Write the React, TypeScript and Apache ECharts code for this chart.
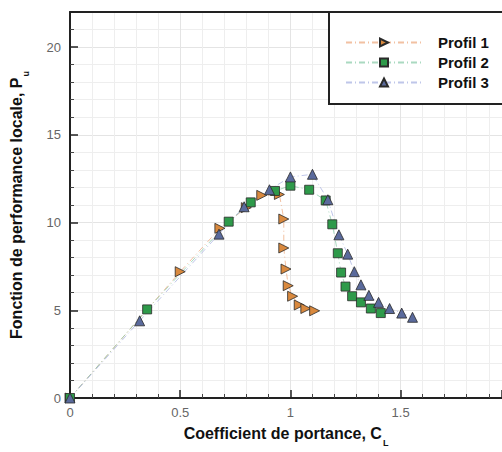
import React, { useEffect, useRef } from "react";
import * as echarts from "echarts";

const seriesNames = ["Profil 1", "Profil 2", "Profil 3"];

const profil1: [number, number][] = [
  [0, 0], [0.5, 7.2], [0.68, 9.67], [0.8, 10.85], [0.87, 11.55], [0.95, 11.6],
  [0.97, 10.2], [0.97, 8.55], [0.98, 7.35], [0.99, 6.4], [1.01, 5.8],
  [1.04, 5.3], [1.07, 5.1], [1.11, 4.97],
];

const profil2: [number, number][] = [
  [0, 0], [0.35, 5.05], [0.72, 10.05], [0.82, 11.15], [0.93, 11.8], [1.0, 12.1],
  [1.085, 11.87], [1.16, 11.26], [1.19, 9.9], [1.215, 8.25], [1.23, 7.15],
  [1.25, 6.35], [1.28, 5.8], [1.32, 5.45], [1.365, 5.1], [1.41, 4.84],
];

const profil3: [number, number][] = [
  [0, 0], [0.316, 4.4], [0.676, 9.34], [0.79, 10.9], [0.905, 11.87], [1.0, 12.6],
  [1.1, 12.75], [1.17, 11.3], [1.22, 9.3], [1.26, 8.2], [1.29, 7.2],
  [1.32, 6.45], [1.356, 5.85], [1.4, 5.45], [1.45, 5.1], [1.505, 4.84], [1.554, 4.6],
];

const xTicks = { min: 0, max: 1.96, interval: 0.5, labels: [0, 0.5, 1, 1.5] };
const yTicks = { min: 0, max: 22, interval: 5, labels: [0, 5, 10, 15, 20] };

export default function App() {
  const ref = useRef<HTMLDivElement>(null);
  useEffect(() => {
    document.body.style.margin = "0";
    const chart = echarts.init(ref.current!, null, { renderer: "svg" });
    const font = "'Liberation Sans', Arial, sans-serif";
    const mk = (
      name: string,
      data: [number, number][],
      symbol: string,
      rotate: number,
      fill: string,
      line: string,
      size: number
    ) => ({
      type: "line",
      name,
      data,
      symbol,
      symbolSize: size,
      symbolRotate: rotate,
      itemStyle: { color: fill, borderColor: "#2a2a2a", borderWidth: 0.8 },
      lineStyle: { color: line, width: 1, type: [6, 3, 1, 3], opacity: 0.7 },
      z: 3,
    });
    const nameStyle = {
      fontFamily: font,
      fontWeight: "bold",
      fontSize: 16,
      color: "#111",
      rich: {
        sub: { fontFamily: font, fontWeight: "bold", fontSize: 9, color: "#111", verticalAlign: "bottom", padding: [0, 0, -6, 1] },
      },
    };
    chart.setOption({
      animation: false,
      backgroundColor: "#ffffff",
      grid: { left: 67, top: 12, right: 0, bottom: 39 },
      legend: {
        orient: "vertical",
        left: 329,
        top: 12,
        padding: [23, 30, 14, 16],
        itemWidth: 76,
        itemHeight: 10,
        itemGap: 5,
        backgroundColor: "#fff",
        borderColor: "#222",
        borderWidth: 2,
        borderRadius: 0,
        textStyle: {
          fontFamily: font,
          fontWeight: "bold",
          fontSize: 15,
          color: "#111",
          padding: [0, 0, 0, 11],
        },
        data: seriesNames,
      },
      xAxis: [
        {
          type: "value",
          min: xTicks.min,
          max: xTicks.max,
          interval: xTicks.interval,
          name: "Coefficient de portance, C{sub|L}",
          nameLocation: "middle",
          nameGap: 27,
          nameTextStyle: nameStyle,
          axisLine: { show: true, lineStyle: { color: "#222", width: 2 } },
          axisTick: { show: true, inside: true, length: 8, lineStyle: { color: "#222", width: 1.5 } },
          minorTick: { show: true, splitNumber: 5, length: 4, lineStyle: { color: "#444", width: 1 } },
          axisLabel: {
            fontFamily: font,
            fontSize: 13,
            color: "#666",
            margin: 8,
            showMaxLabel: false,
            formatter: (v: number) => (xTicks.labels.includes(v) ? String(v) : ""),
          },
          splitLine: { show: true, lineStyle: { color: "#e4e4e4", width: 1 } },
          minorSplitLine: { show: true, lineStyle: { color: "#eeeeee", width: 1 } },
        },
        {
          type: "value",
          position: "top",
          min: xTicks.min,
          max: xTicks.max,
          axisLine: { show: true, lineStyle: { color: "#222", width: 2 } },
          axisTick: { show: false },
          axisLabel: { show: false },
          splitLine: { show: false },
        },
      ],
      yAxis: {
        type: "value",
        min: yTicks.min,
        max: yTicks.max,
        interval: yTicks.interval,
        name: "Fonction de performance locale, P{sub|u}",
        nameLocation: "middle",
        nameGap: 46,
        nameTextStyle: nameStyle,
        axisLine: { show: true, lineStyle: { color: "#222", width: 2 } },
        axisTick: { show: true, inside: true, length: 8, lineStyle: { color: "#222", width: 1.5 } },
        minorTick: { show: true, splitNumber: 5, length: 4, lineStyle: { color: "#444", width: 1 } },
        axisLabel: {
          fontFamily: font,
          fontSize: 13,
          color: "#666",
          margin: 9,
          formatter: (v: number) => (yTicks.labels.includes(v) ? String(v) : ""),
        },
        splitLine: { show: true, lineStyle: { color: "#e4e4e4", width: 1 } },
        minorSplitLine: { show: true, lineStyle: { color: "#eeeeee", width: 1 } },
      },
      series: [
        mk(seriesNames[0], profil1, "triangle", -90, "#d9893e", "#eda77a", 10),
        mk(seriesNames[1], profil2, "rect", 0, "#2e9a4a", "#86c9a6", 9),
        mk(seriesNames[2], profil3, "triangle", 0, "#5a6a9c", "#a4aee0", 10),
      ],
    });
    return () => chart.dispose();
  }, []);
  return <div ref={ref} style={{ width: 502, height: 452 }} />;
}
